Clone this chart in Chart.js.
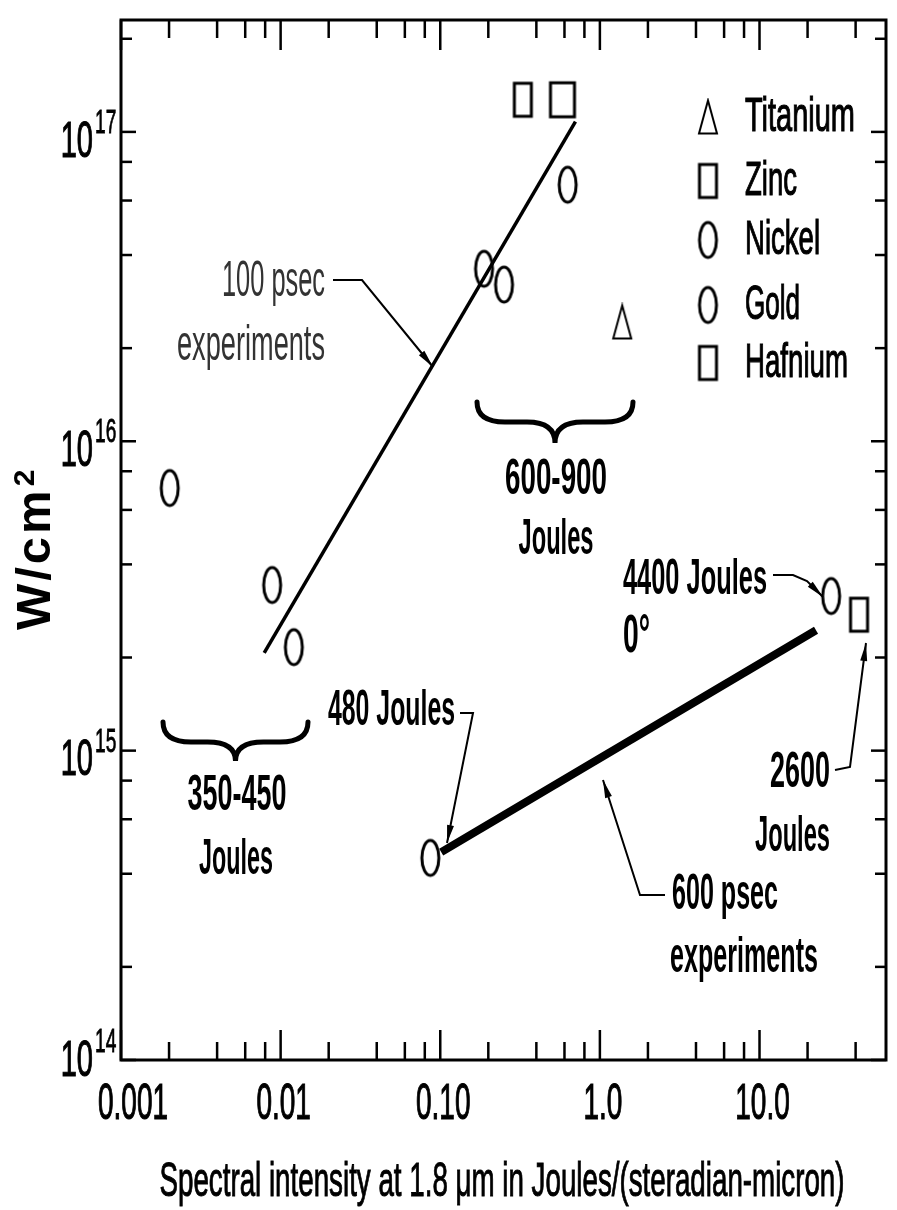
<!DOCTYPE html>
<html lang="en">
<head>
<meta charset="utf-8">
<title>Spectral intensity vs W/cm2</title>
<script src="https://cdn.jsdelivr.net/npm/chart.js@4.4.1/dist/chart.umd.min.js"></script>
<style>
  html, body { margin: 0; padding: 0; background: #fff; }
  #caixa { width: 897px; height: 1210px; }
</style>
</head>
<body>
<div id="caixa"><canvas id="grafico" width="897" height="1210"></canvas></div>
<script>
// Valores (x: Joules/(sr-micron), y: W/cm2)
const metais = ['Titanium', 'Zinc', 'Nickel', 'Gold', 'Hafnium'];

const titanioX = [1.38];
const titanioY = [2.43e16];
const zincoX = [0.329, 42.0];
const zincoY = [1.27e17, 2.75e15];
const niquelX = [0.00202, 0.00885, 0.0121, 0.0867];
const niquelY = [7.06e15, 3.43e15, 2.16e15, 4.50e14];
const ouroX = [0.188, 0.251, 0.628, 28.1];
const ouroY = [3.61e16, 3.21e16, 6.75e16, 3.16e15];
const hafnioX = [0.583];
const hafnioY = [1.27e17];

// Retas "100 psec" e "600 psec"
const reta100X = [0.00789, 0.703];
const reta100Y = [2.07e15, 1.08e17];
const reta600X = [0.1014, 22.6];
const reta600Y = [4.70e14, 2.45e15];

// Eixos
const xMin = 0.001, xMax = 62;
const yMin = 1e14, yMax = 2.3e17;
const xMaiores = [0.001, 0.01, 0.1, 1, 10];
const xRotulos = ['0.001', '0.01', '0.10', '1.0', '10.0'];
const xMenores = [0.002, 0.004, 0.006, 0.008, 0.02, 0.04, 0.06, 0.08, 0.2, 0.4, 0.6, 0.8, 2, 4, 6, 8, 20, 40];
const yMaiores = [1e14, 1e15, 1e16, 1e17];
const yExpoentes = ['14', '15', '16', '17'];
const yMenores = [2e14, 4e14, 6e14, 8e14, 2e15, 4e15, 6e15, 8e15, 2e16, 4e16, 6e16, 8e16, 2e17];

const tituloX = 'Spectral intensity at 1.8 \u03bcm in Joules/(steradian-micron)';
const tituloY = 'W/cm';
const tituloYExp = '2';

const FONTE = '"Liberation Sans", Arial, sans-serif';

// Marcadores desenhados num canvas (elipses e retângulos estreitos como no original)
function marcador(tipo, w, h, lw) {
    const c = document.createElement('canvas');
    c.width = w + lw * 2 + 2;
    c.height = h + lw * 2 + 2;
    const g = c.getContext('2d');
    const cx = c.width / 2, cy = c.height / 2;
    g.strokeStyle = '#000';
    g.lineWidth = lw;
    g.beginPath();
    if (tipo === 'elipse') {
        g.ellipse(cx, cy, w / 2, h / 2, 0, 0, Math.PI * 2);
    } else if (tipo === 'ret') {
        g.rect(cx - w / 2, cy - h / 2, w, h);
    } else {
        g.moveTo(cx, cy - h / 2);
        g.lineTo(cx + w / 2, cy + h / 2);
        g.lineTo(cx - w / 2, cy + h / 2);
        g.closePath();
    }
    g.stroke();
    return c;
}

const mElipse = marcador('elipse', 17, 35, 3);
const mRet = marcador('ret', 17, 33, 3);
const mRetGrande = marcador('ret', 24, 34, 3);
const mTri = marcador('tri', 18, 33, 2);
const estiloLegenda = [mTri, mRet, mElipse, mElipse, mRet];

// Texto condensado (fonte estreita como no original)
function texto(ctx, str, x, y, tam, op = {}) {
    const { largura, sx = 0.56, alinh = 'left', peso = 'bold', cor = '#000', contorno = 0 } = op;
    ctx.save();
    ctx.font = `${peso} ${tam}px ${FONTE}`;
    const w = ctx.measureText(str).width;
    const k = largura ? largura / w : sx;
    ctx.translate(x, y);
    ctx.scale(k, 1);
    ctx.textAlign = alinh;
    ctx.textBaseline = 'middle';
    ctx.fillStyle = cor;
    ctx.fillText(str, 0, 0);
    if (contorno) {
        ctx.strokeStyle = cor;
        ctx.lineWidth = contorno;
        ctx.strokeText(str, 0, 0);
    }
    ctx.restore();
}

function linha(ctx, pts, larg) {
    ctx.beginPath();
    ctx.moveTo(pts[0][0], pts[0][1]);
    pts.slice(1).forEach(p => ctx.lineTo(p[0], p[1]));
    ctx.lineWidth = larg;
    ctx.stroke();
}

function seta(ctx, pts) {
    linha(ctx, pts, 2);
    const [a, b] = pts.slice(-2);
    const ang = Math.atan2(b[1] - a[1], b[0] - a[0]);
    ctx.save();
    ctx.translate(b[0], b[1]);
    ctx.rotate(ang);
    ctx.beginPath();
    ctx.moveTo(0, 0);
    ctx.lineTo(-18, -3.5);
    ctx.lineTo(-18, 3.5);
    ctx.closePath();
    ctx.fill();
    ctx.restore();
}

function chave(ctx, x0, x1, yTopo, yMeio, yPonta) {
    const xc = (x0 + x1) / 2, r = (yMeio - yTopo) * 1.4;
    ctx.beginPath();
    ctx.moveTo(x0, yTopo);
    ctx.quadraticCurveTo(x0, yMeio, x0 + r, yMeio);
    ctx.lineTo(xc - r, yMeio);
    ctx.quadraticCurveTo(xc, yMeio, xc, yPonta);
    ctx.quadraticCurveTo(xc, yMeio, xc + r, yMeio);
    ctx.lineTo(x1 - r, yMeio);
    ctx.quadraticCurveTo(x1, yMeio, x1, yTopo);
    ctx.lineWidth = 5;
    ctx.stroke();
}

const anotacoes = [
    { t: '100 psec', x: 325, y: 282, w: 103, al: 'right', peso: 'normal', cor: '#333' },
    { t: 'experiments', x: 325, y: 346, w: 148, al: 'right', peso: 'normal', cor: '#333' },
    { t: '350-450', x: 237, y: 796, w: 99, al: 'center' },
    { t: 'Joules', x: 236, y: 860, w: 74, al: 'center' },
    { t: '600-900', x: 556, y: 480, w: 102, al: 'center' },
    { t: 'Joules', x: 556, y: 540, w: 75, al: 'center' },
    { t: '4400 Joules', x: 623, y: 580, w: 144 },
    { t: '0\u00b0', x: 623, y: 637, w: 27, tam: 54 },
    { t: '480 Joules', x: 328, y: 711, w: 127 },
    { t: '2600', x: 770, y: 773, w: 60 },
    { t: 'Joules', x: 755, y: 837, w: 75 },
    { t: '600 psec', x: 672, y: 895, w: 106 },
    { t: 'experiments', x: 670, y: 958, w: 148 }
];

const setas = [
    [[333, 280], [362, 280], [433, 367]],
    [[460, 713], [473, 713], [447, 843]],
    [[773, 575], [793, 575], [807, 581], [823, 597]],
    [[835, 770], [850, 767], [866, 643]],
    [[665, 895], [640, 895], [603, 780]]
];

const legendaY = [117, 181, 240, 305, 363];
const legendaW = [110, 52, 75, 55, 103];

const desenho = {
    id: 'desenho',
    afterDraw(chart) {
        const ctx = chart.ctx;
        const sx = chart.scales.x, sy = chart.scales.y;
        const a = chart.chartArea;
        ctx.save();
        ctx.strokeStyle = '#000';
        ctx.fillStyle = '#000';
        ctx.lineCap = 'butt';

        // moldura
        ctx.lineWidth = 3;
        ctx.strokeRect(a.left, a.top, a.right - a.left, a.bottom - a.top);

        // marcas dos eixos (para dentro, nos quatro lados)
        const marcaX = (v, comp) => {
            const px = sx.getPixelForValue(v);
            linha(ctx, [[px, a.bottom], [px, a.bottom - comp]], 2.5);
            linha(ctx, [[px, a.top], [px, a.top + comp]], 2.5);
        };
        const marcaY = (v, comp) => {
            const py = sy.getPixelForValue(v);
            linha(ctx, [[a.left, py], [a.left + comp, py]], 2.5);
            linha(ctx, [[a.right, py], [a.right - comp, py]], 2.5);
        };
        xMaiores.forEach(v => marcaX(v, 30));
        xMenores.forEach(v => marcaX(v, 18));
        yMaiores.forEach(v => marcaY(v, 15));
        yMenores.forEach(v => marcaY(v, 11));

        // rótulos do eixo x
        xMaiores.forEach((v, i) => {
            let px = sx.getPixelForValue(v) + 3;
            if (i === 0) px = Math.max(px, 133);
            texto(ctx, xRotulos[i], px, 1105, 50, { sx: 0.56, alinh: 'center', peso: 'normal', contorno: 1.2 });
        });

        // rótulos do eixo y (10 com expoente)
        yMaiores.forEach((v, i) => {
            const py = sy.getPixelForValue(v);
            const dy = i === 0 ? 2 : 11;
            texto(ctx, '10', 93, py + dy, 50, { sx: 0.58, alinh: 'right', peso: 'normal', contorno: 1.2 });
            texto(ctx, yExpoentes[i], 95, py + dy - 19, 33, { sx: 0.58, peso: 'normal', contorno: 0.8 });
        });

        // títulos
        texto(ctx, tituloX, 502, 1183, 48, { largura: 685, alinh: 'center', peso: 'normal', contorno: 1 });
        ctx.save();
        ctx.translate(50, 630);
        ctx.rotate(-Math.PI / 2);
        ctx.font = `bold 49px ${FONTE}`;
        ctx.letterSpacing = '3px';
        ctx.textBaseline = 'alphabetic';
        ctx.textAlign = 'left';
        ctx.fillText(tituloY, 0, 0);
        const wy = ctx.measureText(tituloY).width;
        ctx.letterSpacing = '0px';
        ctx.font = `bold 30px ${FONTE}`;
        ctx.fillText(tituloYExp, wy + 1, -16);
        ctx.restore();

        // legenda
        metais.forEach((nome, i) => {
            const img = estiloLegenda[i];
            ctx.drawImage(img, 708 - img.width / 2, legendaY[i] - img.height / 2);
            texto(ctx, nome, 745, legendaY[i], 49, { largura: legendaW[i], peso: 'normal', contorno: 1.2 });
        });

        // chaves, setas e textos
        ctx.lineCap = 'round';
        chave(ctx, 163, 308, 722, 742, 761);
        chave(ctx, 477, 633, 402, 422, 443);
        ctx.lineCap = 'butt';
        setas.forEach(p => seta(ctx, p));
        anotacoes.forEach(n => texto(ctx, n.t, n.x, n.y, n.tam || 50, {
            largura: n.w, alinh: n.al || 'left', peso: n.peso || 'bold', cor: n.cor || '#000'
        }));
        ctx.restore();
    }
};

const pontos = (xs, ys) => xs.map((x, i) => ({ x, y: ys[i] }));

const canvas = document.getElementById('grafico');
new Chart(canvas, {
    type: 'scatter',
    data: {
        datasets: [
            { label: '100 psec', data: pontos(reta100X, reta100Y), showLine: true, borderColor: '#000', borderWidth: 3.5, pointRadius: 0 },
            { label: '600 psec', data: pontos(reta600X, reta600Y), showLine: true, borderColor: '#000', borderWidth: 8, pointRadius: 0 },
            { label: metais[0], data: pontos(titanioX, titanioY), pointStyle: mTri, pointRadius: 10 },
            { label: metais[1], data: pontos(zincoX, zincoY), pointStyle: mRet, pointRadius: 10 },
            { label: metais[2], data: pontos(niquelX, niquelY), pointStyle: mElipse, pointRadius: 10 },
            { label: metais[3], data: pontos(ouroX, ouroY), pointStyle: mElipse, pointRadius: 10 },
            { label: metais[4], data: pontos(hafnioX, hafnioY), pointStyle: mRetGrande, pointRadius: 10 }
        ]
    },
    options: {
        responsive: false,
        animation: false,
        devicePixelRatio: 1,
        events: [],
        layout: { padding: { left: 121, right: 7, top: 20, bottom: 150 } },
        plugins: {
            legend: { display: false },
            tooltip: { enabled: false },
            title: { display: false }
        },
        scales: {
            x: { type: 'logarithmic', min: xMin, max: xMax, display: false },
            y: { type: 'logarithmic', min: yMin, max: yMax, display: false }
        }
    },
    plugins: [desenho]
});
</script>
</body>
</html>
